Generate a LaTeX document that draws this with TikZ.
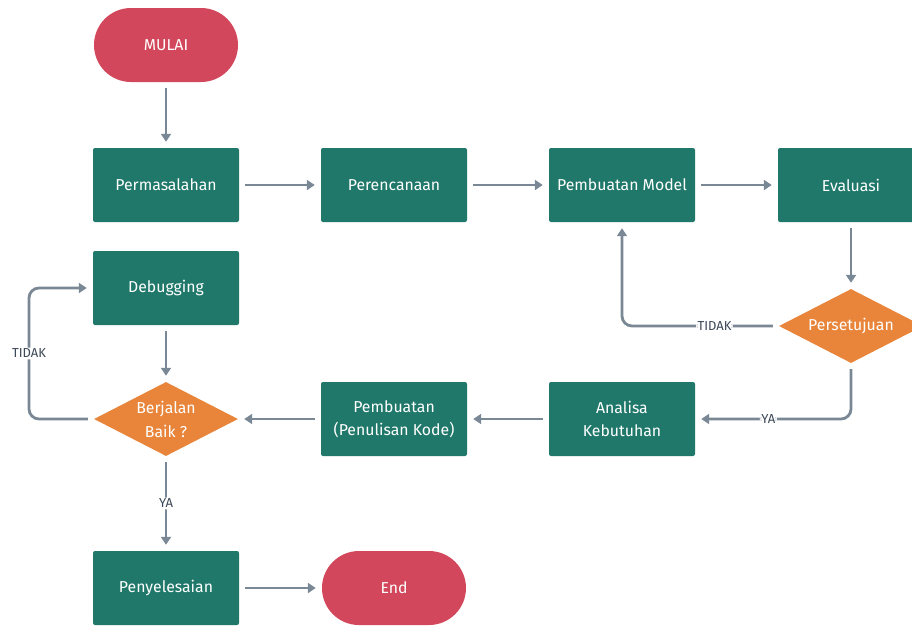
\documentclass[tikz,border=0pt]{standalone}
\usepackage{fontspec}
\setmainfont{Fira Sans}
\usetikzlibrary{arrows.meta,shapes.geometric}
\definecolor{boxgreen}{HTML}{20786A}
\definecolor{pillred}{HTML}{D2475B}
\definecolor{diaor}{HTML}{E8853A}
\definecolor{linegray}{HTML}{7A8896}
\definecolor{labgray}{HTML}{3C4856}
\tikzset{
  procbox/.style={rectangle, rounded corners=2pt, fill=boxgreen, text=white, minimum width=146pt, minimum height=74pt, font=\fontsize{15.8}{23}\selectfont, align=center, inner sep=0pt},
  pill/.style={rectangle, rounded corners=37pt, fill=pillred, text=white, minimum width=144pt, minimum height=74pt, font=\fontsize{15.8}{23}\selectfont, inner sep=0pt},
  decide/.style={diamond, fill=diaor, text=white, minimum width=144pt, minimum height=74pt, aspect=1.95, font=\fontsize{15.8}{24}\selectfont, align=center, inner sep=0pt},
  conn/.style={draw=linegray, line width=2.8pt, -{Triangle[length=8pt,width=10pt]}, shorten >=6pt, shorten <=6pt, rounded corners=10pt},
  lab/.style={fill=white, text=labgray, font=\fontsize{13}{15}\selectfont, inner sep=1.5pt}
}
\begin{document}
\begin{tikzpicture}[x=1pt,y=-1pt]
\useasboundingbox (0,0) rectangle (912,625);
\clip (0,0) rectangle (912,625);
\node[pill] (mulai) at (166,45) {MULAI};
\node[procbox] (masalah) at (166,185) {Permasalahan};
\node[procbox] (rencana) at (394,185) {Perencanaan};
\node[procbox] (model) at (622,185) {Pembuatan Model};
\node[procbox] (eval) at (851,185) {Evaluasi};
\node[procbox] (debug) at (166,288) {Debugging};
\node[decide] (setuju) at (851,326) {Persetujuan};
\node[decide] (baik) at (166,419) {Berjalan\\Baik ?};
\node[procbox] (kode) at (394,419) {Pembuatan\\(Penulisan Kode)};
\node[procbox] (analisa) at (622,419) {Analisa\\Kebutuhan};
\node[procbox] (selesai) at (166,588) {Penyelesaian};
\node[pill] (end) at (394,588) {End};
\coordinate (c1) at (622,326);
\coordinate (c2) at (851,419);
\coordinate (c3) at (29,419);
\coordinate (c4) at (29,288);
\draw[conn] (mulai) -- (masalah);
\draw[conn] (masalah) -- (rencana);
\draw[conn] (rencana) -- (model);
\draw[conn] (model) -- (eval);
\draw[conn] (eval) -- (setuju);
\draw[conn] (setuju.west) -- node[lab, pos=0.41] {TIDAK} (c1) -- (model.south);
\draw[conn] (setuju.south) -- (c2) -- node[lab, pos=0.53] {YA} (analisa.east);
\draw[conn] (analisa) -- (kode);
\draw[conn] (kode) -- (baik);
\draw[conn] (debug) -- (baik);
\draw[conn] (baik.west) -- (c3) -- node[lab, pos=0.5] {TIDAK} (c4) -- (debug.west);
\draw[conn] (baik.south) -- node[lab, pos=0.5] {YA} (selesai.north);
\draw[conn] (selesai) -- (end);
\end{tikzpicture}
\end{document}
